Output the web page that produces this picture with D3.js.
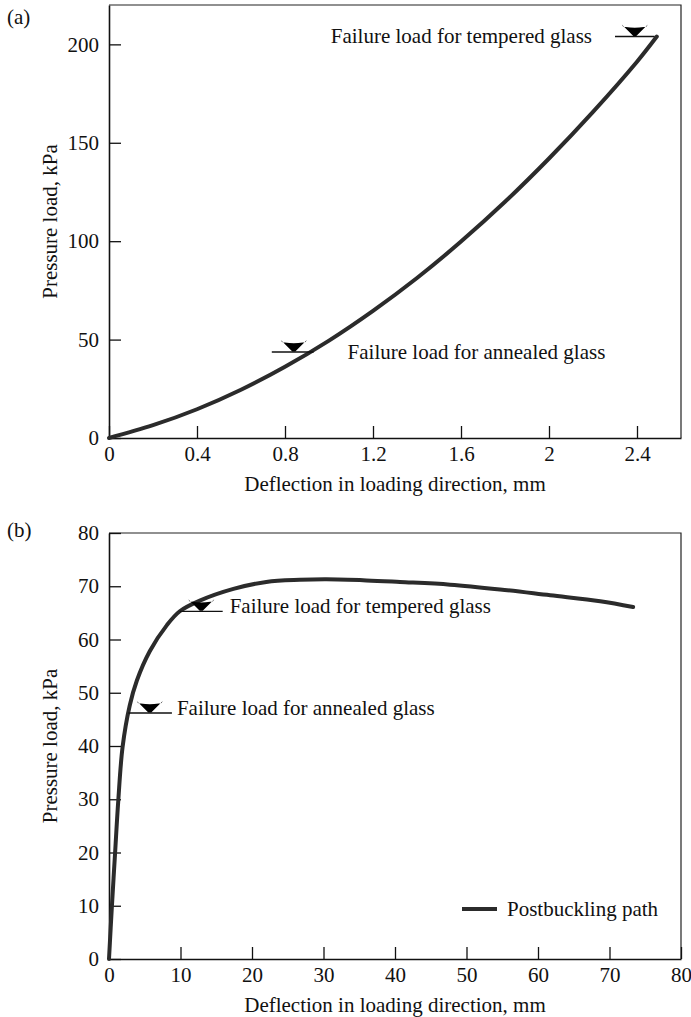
<!DOCTYPE html>
<html>
<head>
<meta charset="utf-8">
<script src="https://cdn.jsdelivr.net/npm/d3@7"></script>
<style>
  html, body { margin: 0; padding: 0; background: #fff; }
  svg { display: block; }
  text { font-family: "Liberation Serif", "Times New Roman", serif; fill: #111; }
</style>
</head>
<body>
<svg id="chart" width="691" height="1017"></svg>
<script>
// ---- Panel (a) data ----
const aDeflection = [0, 0.2, 0.4, 0.6, 0.8, 1.0, 1.2, 1.4, 1.6, 1.8, 2.0, 2.2, 2.4, 2.49];
const aPressure   = [0, 6.5, 14.6, 24.5, 36.2, 49.5, 64.6, 81.3, 99.8, 120, 142, 165.7, 191.2, 204];
const aXTicks = [0, 0.4, 0.8, 1.2, 1.6, 2, 2.4];
const aYTicks = [0, 50, 100, 150, 200];
const aMarkerLabels = ["Failure load for annealed glass", "Failure load for tempered glass"];
const aMarkerX  = [0.84, 2.39];
const aMarkerY  = [43.7, 204];
const aMarkerX0 = [0.74, 2.30];
const aMarkerX1 = [0.93, 2.48];

// ---- Panel (b) data ----
const bDeflection = [0, 0.4, 0.85, 1.3, 1.9, 2.9, 3.9, 5.7, 8.1, 9.9, 12.7, 17.4, 22, 26.7, 30.4, 36, 40.7, 47.7, 54.7, 61.7, 68.7, 73.3];
const bPressure   = [0, 9.8, 19.9, 29.8, 39.8, 47.6, 52.3, 57.8, 62.7, 65.3, 67.3, 69.5, 70.8, 71.2, 71.3, 71.1, 70.8, 70.3, 69.4, 68.3, 67.2, 66.1];
const bXTicks = [0, 10, 20, 30, 40, 50, 60, 70, 80];
const bYTicks = [0, 10, 20, 30, 40, 50, 60, 70, 80];
const bMarkerLabels = ["Failure load for annealed glass", "Failure load for tempered glass"];
const bMarkerX  = [5.7, 12.9];
const bMarkerY  = [46.2, 65.3];
const bMarkerX0 = [2.7, 9.9];
const bMarkerX1 = [8.8, 15.9];
const legendLabel = "Postbuckling path";

const xTitle = "Deflection in loading direction, mm";
const yTitle = "Pressure load, kPa";

const svg = d3.select("#chart");
const FS = 21;

function panel(opts) {
  const g = svg.append("g");
  const x = d3.scaleLinear().domain(opts.xDomain).range([109, 681]);
  const y = d3.scaleLinear().domain(opts.yDomain).range([opts.yBottom, opts.yTop]);

  // frame (top & right)
  g.append("path")
    .attr("d", `M${x.range()[0]},${y.range()[1]} H${x.range()[1]} V${y.range()[0]}`)
    .attr("fill", "none").attr("stroke", "#222").attr("stroke-width", 1.2);

  const xAxis = g.append("g").attr("transform", `translate(0,${opts.yBottom})`)
    .call(d3.axisBottom(x).tickValues(opts.xTicks).tickFormat(d3.format("~g"))
      .tickSizeInner(-12).tickSizeOuter(0).tickPadding(8));
  const yAxis = g.append("g").attr("transform", `translate(109,0)`)
    .call(d3.axisLeft(y).tickValues(opts.yTicks).tickFormat(d3.format("~g"))
      .tickSizeInner(-12).tickSizeOuter(0).tickPadding(10));
  [xAxis, yAxis].forEach(a => {
    a.attr("font-family", null).attr("font-size", null);
    a.select(".domain").attr("stroke", "#111").attr("stroke-width", 1.6);
    a.selectAll(".tick line").attr("stroke", "#111").attr("stroke-width", 1.3);
    a.selectAll(".tick text").style("font-size", FS + "px")
      .style("font-family", '"Liberation Serif", "Times New Roman", serif').attr("fill", "#111");
  });

  // axis titles
  g.append("text").attr("x", (109 + 681) / 2).attr("y", opts.yBottom + 53)
    .attr("text-anchor", "middle").style("font-size", FS + "px").text(xTitle);
  g.append("text")
    .attr("transform", `translate(57,${(opts.yBottom + opts.yTop) / 2}) rotate(-90)`)
    .attr("text-anchor", "middle").style("font-size", FS + "px").text(yTitle);

  // panel label
  g.append("text").attr("x", 7).attr("y", opts.yTop + opts.labelDy)
    .style("font-size", FS + "px").text(opts.panelLabel);

  // curve
  const pts = opts.xs.map((d, i) => [d, opts.ys[i]]);
  g.append("path").datum(pts)
    .attr("d", d3.line().x(d => x(d[0])).y(d => y(d[1])).curve(d3.curveCatmullRom.alpha(0.5)))
    .attr("fill", "none").attr("stroke", "#2b2b2b").attr("stroke-width", 4)
    .attr("stroke-linecap", "round");

  // failure markers
  opts.mX.forEach((mx, i) => {
    const yy = y(opts.mY[i]);
    g.append("line").attr("x1", x(opts.mX0[i])).attr("x2", x(opts.mX1[i]))
      .attr("y1", yy).attr("y2", yy).attr("stroke", "#111").attr("stroke-width", 1.3);
    g.append("path")
      .attr("transform", `translate(${x(mx)},${yy})`)
      .attr("d", "M-13,-12 Q-12,-9 -9,-9.5 Q0,-8 9,-9.5 Q12,-9 13,-12 L1.5,-0.5 L-1.5,-0.5 Z")
      .attr("fill", "#000");
    const lab = opts.mLabelPos[i];
    g.append("text").attr("x", lab.anchor === "end" ? x(opts.mX0[i]) - lab.gap : x(opts.mX1[i]) + lab.gap)
      .attr("y", yy + lab.dy)
      .attr("text-anchor", lab.anchor)
      .style("font-size", FS + "px").text(opts.mLabels[i]);
  });
  return {g, x, y};
}

panel({
  xDomain: [0, 2.6], yDomain: [0, 220], yBottom: 438, yTop: 5,
  xTicks: aXTicks, yTicks: aYTicks, xs: aDeflection, ys: aPressure,
  mX: aMarkerX, mY: aMarkerY, mX0: aMarkerX0, mX1: aMarkerX1, mLabels: aMarkerLabels,
  mLabelPos: [{anchor: "start", gap: 34, dy: 7}, {anchor: "end", gap: 23, dy: 7}],
  panelLabel: "(a)", labelDy: 19
});

const b = panel({
  xDomain: [0, 80], yDomain: [0, 80], yBottom: 959, yTop: 533,
  xTicks: bXTicks, yTicks: bYTicks, xs: bDeflection, ys: bPressure,
  mX: bMarkerX, mY: bMarkerY, mX0: bMarkerX0, mX1: bMarkerX1, mLabels: bMarkerLabels,
  mLabelPos: [{anchor: "start", gap: 5, dy: 2}, {anchor: "start", gap: 7, dy: 2}],
  panelLabel: "(b)", labelDy: 4
});

// legend
b.g.append("line").attr("x1", 462).attr("x2", 497).attr("y1", 909).attr("y2", 909)
  .attr("stroke", "#2b2b2b").attr("stroke-width", 4);
b.g.append("text").attr("x", 507).attr("y", 916).style("font-size", FS + "px").text(legendLabel);
</script>
</body>
</html>
